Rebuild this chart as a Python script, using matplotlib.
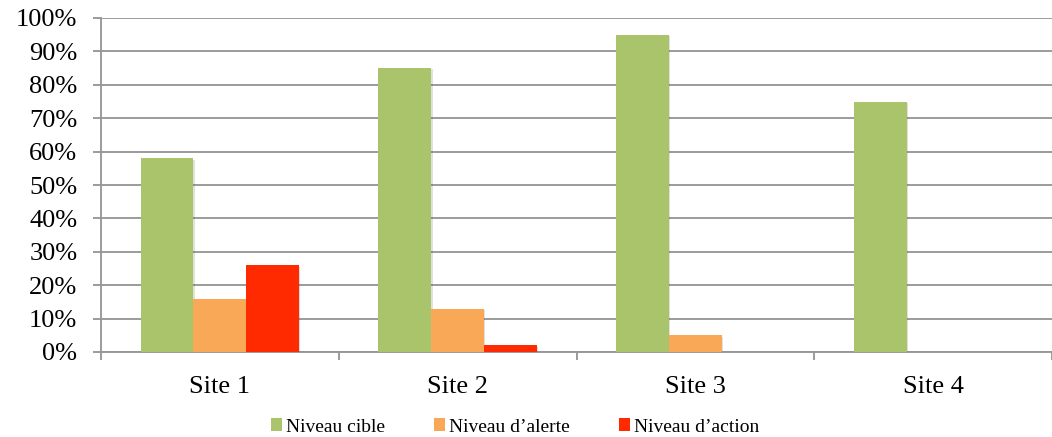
import matplotlib
matplotlib.use("Agg")
import matplotlib.pyplot as plt
import matplotlib.patheffects as pe
import numpy as np
from matplotlib.ticker import FixedLocator, PercentFormatter

categories = ["Site 1", "Site 2", "Site 3", "Site 4"]
series_names = ["Niveau cible", "Niveau d\u2019alerte", "Niveau d\u2019action"]
niveau_cible = [58, 85, 95, 75]
niveau_alerte = [16, 13, 5, 0]
niveau_action = [26, 2, 0, 0]
colors = ["#AAC46C", "#F9A857", "#FF2A00"]

plt.rcParams['font.family'] = ['Liberation Serif', 'DejaVu Serif']

fig = plt.figure(figsize=(10.52, 4.37), dpi=100)
ax = fig.add_axes([101/1052, 1-352/437, 1-101/1052, (352-18)/437])

x = np.arange(len(categories))
w = 0.222
shadow = [pe.SimplePatchShadow(offset=(1.0, -1.0), alpha=0.15), pe.Normal()]
for i, (vals, name, c) in enumerate(zip([niveau_cible, niveau_alerte, niveau_action], series_names, colors)):
    bars = ax.bar(x + (i - 1) * w, vals, width=w, color=c, label=name, zorder=3)
    for b in bars:
        if b.get_height() > 0:
            b.set_path_effects(shadow)

ax.set_xlim(-0.5, len(categories) - 0.5)
ax.set_ylim(0, 100)
ax.set_yticks(np.arange(0, 101, 10))
ax.yaxis.set_major_formatter(PercentFormatter(decimals=0))
ax.set_axisbelow(True)
ax.grid(axis='y', color='#979797', linewidth=1.35)

ax.set_xticks(x)
ax.set_xticklabels(categories)
ax.xaxis.set_minor_locator(FixedLocator(np.arange(-0.5, len(categories), 1.0)))
ax.tick_params(axis='x', which='major', length=0, pad=17, labelsize=19)
ax.tick_params(axis='x', which='minor', length=6, width=1.35, color='#979797')
ax.tick_params(axis='y', length=6, width=1.35, color='#979797', pad=11, labelsize=19)

for s in ['top', 'right']:
    ax.spines[s].set_visible(False)
for s in ['left', 'bottom']:
    ax.spines[s].set_color('#979797')
    ax.spines[s].set_linewidth(1.35)

handles, labels = ax.get_legend_handles_labels()
leg = fig.legend(handles, labels, loc='center', bbox_to_anchor=(515/1052, 1-427/437),
                 ncol=3, frameon=False, fontsize=14, handlelength=0.6, handleheight=0.6,
                 handletextpad=0.2, columnspacing=2.5, borderaxespad=0, borderpad=0)
for h in leg.legend_handles:
    h.set_path_effects([])

fig.savefig("out.png", dpi=100)
